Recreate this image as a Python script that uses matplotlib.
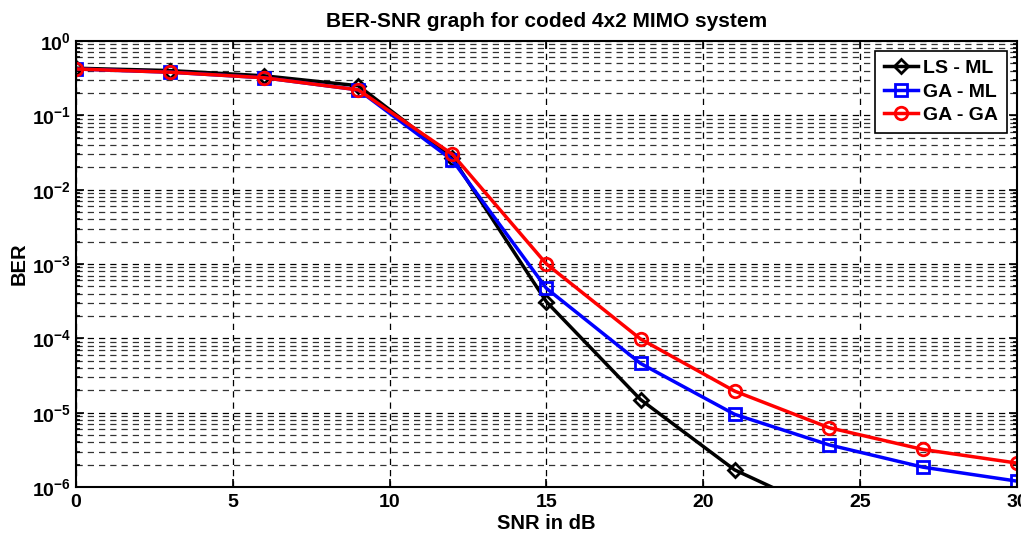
import matplotlib
matplotlib.use('Agg')
import matplotlib.pyplot as plt
import numpy as np

plt.rcParams['font.family'] = ['Liberation Sans', 'DejaVu Sans']
plt.rcParams['font.weight'] = 'bold'
plt.rcParams['mathtext.fontset'] = 'custom'
plt.rcParams['mathtext.rm'] = 'Liberation Sans:bold'
plt.rcParams['mathtext.it'] = 'Liberation Sans:bold'
plt.rcParams['mathtext.bf'] = 'Liberation Sans:bold'

snr = [0, 3, 6, 9, 12, 15, 18, 21, 24, 27, 30]
ber_ls_ml = [0.43, 0.40, 0.34, 0.25, 0.027, 3.1e-4, 1.5e-5, 1.7e-6, 4.4e-7, 1.2e-7, 4e-8]
ber_ga_ml = [0.42, 0.38, 0.32, 0.22, 0.025, 4.7e-4, 4.6e-5, 9.5e-6, 3.7e-6, 1.85e-6, 1.2e-6]
ber_ga_ga = [0.42, 0.38, 0.32, 0.22, 0.030, 1.0e-3, 9.8e-5, 1.95e-5, 6.3e-6, 3.2e-6, 2.1e-6]
labels = ['LS - ML', 'GA - ML', 'GA - GA']

fig = plt.figure(figsize=(10.21, 5.35), dpi=100)
ax = fig.add_axes([0.0744, 0.0897, 0.9216, 0.8337])

ax.semilogy(snr, ber_ls_ml, color='k', marker='D', markersize=7, mfc='none', mew=2, lw=2.5, label=labels[0])
ax.semilogy(snr, ber_ga_ml, color='b', marker='s', markersize=8, mfc='none', mew=2, lw=2.5, label=labels[1])
ax.semilogy(snr, ber_ga_ga, color='r', marker='o', markersize=9, mfc='none', mew=2, lw=2.5, label=labels[2])

ax.set_xlim(0, 30)
ax.set_ylim(1e-6, 1)
ax.set_xticks(range(0, 31, 5))
ax.grid(True, which='major', color='k', linestyle=(0, (5, 4)), linewidth=0.9)
ax.grid(True, which='minor', color='k', linestyle=(0, (5, 4)), linewidth=0.9, alpha=0.8)
ax.tick_params(which='both', direction='in', top=True, right=True, labelsize=14, width=1.2)
ax.tick_params(which='major', length=6)
ax.tick_params(which='minor', length=3)
ax.tick_params(axis='x', pad=5)
for s in ax.spines.values():
    s.set_linewidth(1.5)

ax.set_title('BER-SNR graph for coded 4x2 MIMO system', fontsize=15, fontweight='bold', pad=10)
ax.set_xlabel('SNR in dB', fontsize=14.5, fontweight='bold', labelpad=2)
ax.set_ylabel('BER', fontsize=14.5, fontweight='bold', labelpad=2)

leg = ax.legend(loc='upper right', fontsize=14, fancybox=False, framealpha=1,
                edgecolor='k', handlelength=1.75, handletextpad=0.3,
                labelspacing=0.3, borderpad=0.45, borderaxespad=0.5)
leg.get_frame().set_linewidth(1.2)

fig.savefig('out.png', dpi=100)
